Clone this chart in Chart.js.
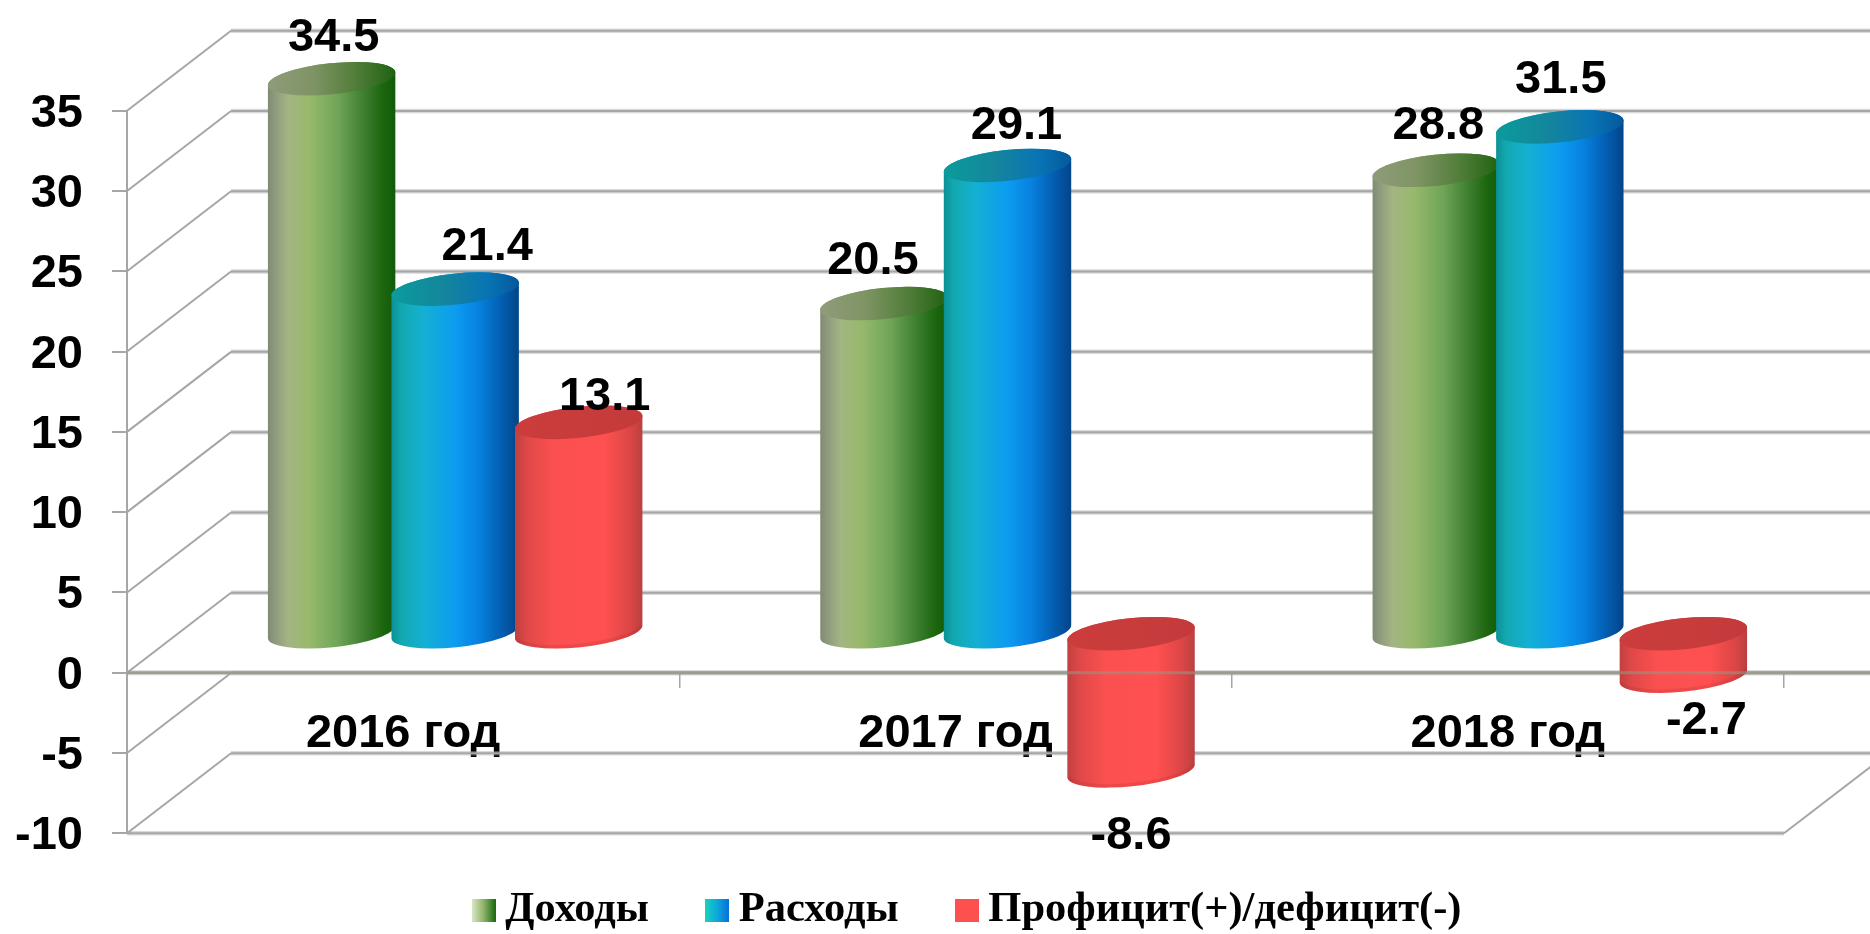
<!DOCTYPE html>
<html lang="ru">
<head>
<meta charset="utf-8">
<title>Доходы, расходы, профицит</title>
<style>html,body{margin:0;padding:0;background:#fff}canvas{display:block}</style>
<script src="https://cdn.jsdelivr.net/npm/chart.js@4/dist/chart.umd.js"></script>
</head>
<body>
<canvas id="c" width="1870" height="934"></canvas>
<script>
const categories = ['2016 год', '2017 год', '2018 год'];
const seriesNames = ['Доходы', 'Расходы', 'Профицит(+)/дефицит(-)'];
const incomeValues = [34.5, 20.5, 28.8];
const expenseValues = [21.4, 29.1, 31.5];
const balanceValues = [13.1, -8.6, -2.7];
const axisMin = -10, axisMax = 35, axisStep = 5;

// styles
const GREEN = '#9bbb59', BLUE = '#0f9bec', RED = '#ff5050';
const shades = {
  [GREEN]: {
    body: [[0,'#7f8a72'],[.06,'#8f9b7e'],[.16,'#a3b583'],[.32,'#98b96c'],[.55,'#6fa557'],[.75,'#3f7f30'],[.9,'#1c660f'],[1,'#125a08']],
    cap: [[0,'#8f9c7b'],[.35,'#7f9464'],[.7,'#4f7c38'],[1,'#1f6210']],
    edge: 'rgba(30,60,10,0)',
    swatch: [[0,'#dde8c8'],[.5,'#8fb46a'],[1,'#1c6a10']]
  },
  [BLUE]: {
    body: [[0,'#0c8f96'],[.08,'#13a8b0'],[.25,'#14b0d2'],[.5,'#0c9cf0'],[.68,'#0782e0'],[.85,'#0360b4'],[1,'#034488']],
    cap: [[0,'#0a9c9c'],[.4,'#14869c'],[.75,'#0874b4'],[1,'#04589c']],
    edge: 'rgba(0,40,90,0)',
    swatch: [[0,'#17d4bc'],[.5,'#0fa8dc'],[1,'#0470d8']]
  },
  [RED]: {
    body: [[0,'#c04040'],[.1,'#e04848'],[.3,'#fb5050'],[.7,'#ff5050'],[.9,'#dc4646'],[1,'#b84040']],
    cap: [[0,'#cc3c3c'],[.5,'#c83c3c'],[1,'#c43a3a']],
    edge: 'rgba(170,40,40,.18)',
    swatch: [[0,RED],[1,RED]]
  }
};
const GRID = '#a6a6a6', GRID_SOFT = 'rgba(170,170,170,.45)';
const SANS = '"Liberation Sans", Arial, sans-serif';
const NUM_SIZE = 47;
const DEPTH_X = 104, DEPTH_Y = 80;   // wall depth (px)
const labelNudges = [
  [[2,-41],[-11,-42],[2,-44]],
  [[32,-42],[9,-39],[1,-47]],
  [[26,-25],[0,65],[23,45]]
];

function stops(g, list){ list.forEach(s => g.addColorStop(s[0], s[1])); return g; }

// cylinder look for every library-computed bar rectangle
Chart.BarElement.prototype.draw = function(ctx){
  const p = this.getProps(['x','y','base','width']);
  const s = shades[this.options.backgroundColor];
  const cx = p.x + DEPTH_X/2;
  const a = p.width/2*1.037, b = 15.5, rot = -6*Math.PI/180;
  const yTop = Math.min(p.y, p.base) - DEPTH_Y/2;
  const yBot = Math.max(p.y, p.base) - DEPTH_Y/2;
  ctx.save();
  ctx.beginPath();
  ctx.ellipse(cx, yBot, a, b, rot, Math.PI, 0, true);
  ctx.ellipse(cx, yTop, a, b, rot, 0, Math.PI, true);
  ctx.closePath();
  ctx.fillStyle = stops(ctx.createLinearGradient(cx-a,0,cx+a,0), s.body);
  ctx.fill();
  ctx.save();
  ctx.clip();
  ctx.beginPath();
  ctx.ellipse(cx, yBot, a, b, rot, Math.PI, 0, true);
  ctx.strokeStyle = s.edge; ctx.lineWidth = 7;
  ctx.stroke();
  ctx.restore();
  ctx.beginPath();
  ctx.ellipse(cx, yTop, a, b, rot, 0, Math.PI*2);
  ctx.fillStyle = stops(ctx.createLinearGradient(cx-a,0,cx+a,0), s.cap);
  ctx.fill();
  ctx.restore();
};

function swatch(list){
  const cv = document.createElement('canvas');
  cv.width = 24; cv.height = 23;
  const g = cv.getContext('2d');
  g.fillStyle = stops(g.createLinearGradient(0,0,24,0), list);
  g.fillRect(0,0,24,23);
  return cv;
}

function line(ctx,x1,y1,x2,y2,w,col){
  ctx.beginPath(); ctx.moveTo(x1,y1); ctx.lineTo(x2,y2);
  ctx.lineWidth = w; ctx.strokeStyle = col; ctx.stroke();
}

const wallPlugin = {
  id: 'wall',
  afterLayout(chart){
    const l = chart.legend;
    l.left = 415.5; l.right = chart.width; l.top = 821.25; l.bottom = chart.height;
  },
  beforeDatasetsDraw(chart){
    const ctx = chart.ctx, y = chart.scales.y, area = chart.chartArea;
    const W = chart.width, fx = area.left, bx = fx + DEPTH_X;
    ctx.save();
    // walls and floor
    y.ticks.forEach(t => {
      const py = y.getPixelForValue(t.value);
      line(ctx, bx, py-DEPTH_Y, W, py-DEPTH_Y, 4.5, GRID_SOFT);
      line(ctx, bx, py-DEPTH_Y, W, py-DEPTH_Y, 2, GRID);
      line(ctx, fx, py, bx, py-DEPTH_Y, 2, GRID);
    });
    const p0 = y.getPixelForValue(0), pm = y.getPixelForValue(axisMin);
    line(ctx, fx, p0, W, p0, 5, GRID_SOFT);
    line(ctx, fx, p0, W, p0, 2.5, GRID);
    line(ctx, fx, pm, area.right, pm, 4.5, GRID_SOFT);
    line(ctx, fx, pm, area.right, pm, 2, GRID);
    line(ctx, area.right, pm, area.right+DEPTH_X, pm-DEPTH_Y, 2, GRID);
    // cylinders: later series sits on top of the earlier one
    chart.data.datasets.forEach((d,i) => chart.getDatasetMeta(i).controller.draw());
    // zero plane shows through the cylinders below it
    line(ctx, fx, p0, W, p0, 3, 'rgba(150,150,130,.6)');
    // value labels
    ctx.font = 'bold ' + NUM_SIZE + 'px ' + SANS; ctx.fillStyle = '#000';
    ctx.textAlign = 'center'; ctx.textBaseline = 'middle';
    chart.data.datasets.forEach((d,i) => {
      chart.getDatasetMeta(i).data.forEach((el,j) => {
        const n = labelNudges[i][j];
        ctx.fillText(d.data[j].toFixed(1), el.x + DEPTH_X/2 + n[0], el.y - DEPTH_Y/2 + n[1]);
      });
    });
    ctx.restore();
    return false;
  }
};

const dataSets = [incomeValues, expenseValues, balanceValues];
const colors = [GREEN, BLUE, RED];

new Chart(document.getElementById('c'), {
  type: 'bar',
  data: {
    labels: categories,
    datasets: dataSets.map((vals,i) => ({
      label: seriesNames[i], data: vals,
      backgroundColor: colors[i],
      categoryPercentage: 0.671, barPercentage: 1
    }))
  },
  plugins: [wallPlugin],
  options: {
    responsive: false,
    animation: false,
    layout: { padding: { top: 110.7, right: 86, bottom: 40.7, left: 0 } },
    scales: {
      x: {
        position: { y: 0 },
        grid: { drawOnChartArea: false, drawTicks: true, tickLength: 15, color: GRID, lineWidth: 1.5 },
        border: { display: false },
        ticks: { color: '#000', font: { family: SANS, size: NUM_SIZE, weight: 'bold' }, padding: 18, maxRotation: 0, autoSkip: false }
      },
      y: {
        min: axisMin, max: axisMax,
        afterFit(s){ s.width = 127; },
        grid: { drawOnChartArea: false, tickLength: 15, color: GRID, lineWidth: 2 },
        border: { display: true, color: GRID, width: 2 },
        ticks: { stepSize: axisStep, color: '#000', font: { family: SANS, size: NUM_SIZE, weight: 'bold' }, padding: 29, labelOffset: 3 }
      }
    },
    plugins: {
      tooltip: { enabled: false },
      legend: {
        position: 'bottom', align: 'start', maxHeight: 60,
        labels: {
          usePointStyle: true, pointStyleWidth: 1, padding: 67.5, color: '#000',
          font: { family: '"Liberation Serif", "Times New Roman", serif', size: 42.5, weight: 'bold' },
          generateLabels(){
            return seriesNames.map((t,i) => ({
              text: t, pointStyle: swatch(shades[colors[i]].swatch),
              fillStyle: colors[i], strokeStyle: colors[i], lineWidth: 0, datasetIndex: i
            }));
          }
        }
      }
    }
  }
});
</script>
</body>
</html>
